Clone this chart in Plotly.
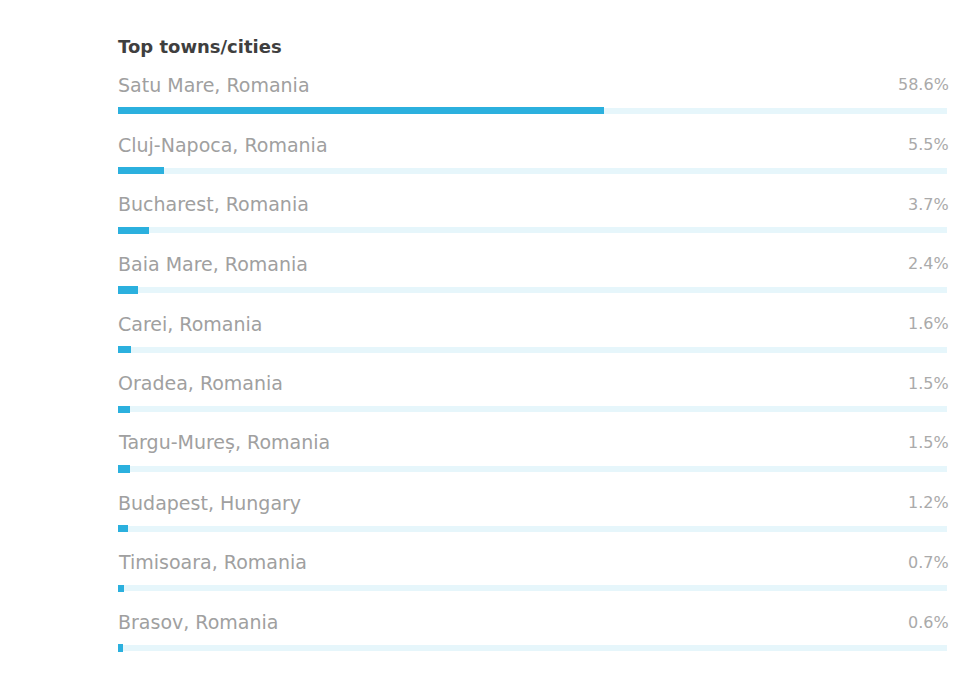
import plotly.graph_objects as go

cities = ["Satu Mare, Romania", "Cluj-Napoca, Romania", "Bucharest, Romania",
          "Baia Mare, Romania", "Carei, Romania", "Oradea, Romania",
          "Targu-Mureș, Romania", "Budapest, Hungary", "Timisoara, Romania",
          "Brasov, Romania"]
shares = [58.6, 5.5, 3.7, 2.4, 1.6, 1.5, 1.5, 1.2, 0.7, 0.6]
pct_labels = ["58.6%", "5.5%", "3.7%", "2.4%", "1.6%", "1.5%", "1.5%", "1.2%", "0.7%", "0.6%"]
track = [100] * len(cities)

fig = go.Figure()
fig.add_trace(go.Bar(x=track, y=cities, orientation="h", width=0.1,
                     marker=dict(color="#e6f6fb", line=dict(width=0)),
                     hoverinfo="skip", showlegend=False))
fig.add_trace(go.Bar(x=shares, y=cities, orientation="h", width=0.12,
                     marker=dict(color="#2bb0de", line=dict(width=0)),
                     showlegend=False))

for c, p in zip(cities, pct_labels):
    fig.add_annotation(x=0, y=c, xref="x", yref="y", text=c, showarrow=False,
                       xanchor="left", yanchor="middle", yshift=26, xshift=-2,
                       font=dict(family="DejaVu Sans", size=19, color="#a0a0a0"))
    fig.add_annotation(x=100, y=c, xref="x", yref="y", text=p, showarrow=False,
                       xanchor="right", yanchor="middle", yshift=26, xshift=4,
                       font=dict(family="DejaVu Sans", size=16, color="#aaaaaa"))

fig.add_annotation(x=0, y=1, xref="paper", yref="paper", text="<b>Top towns/cities</b>",
                   showarrow=False, xanchor="left", yanchor="bottom", yshift=22, xshift=-2,
                   font=dict(family="DejaVu Sans", size=18, color="#3f3f3f"))

fig.update_layout(
    width=945, height=667,
    margin=dict(l=110, r=6, t=73, b=15),
    paper_bgcolor="white", plot_bgcolor="white",
    barmode="overlay", bargap=0,
    xaxis=dict(range=[0, 100], visible=False, fixedrange=True),
    yaxis=dict(type="category", categoryorder="array", categoryarray=cities,
               range=[9.2, -0.5], visible=False),
)

fig.write_html("out.html")
